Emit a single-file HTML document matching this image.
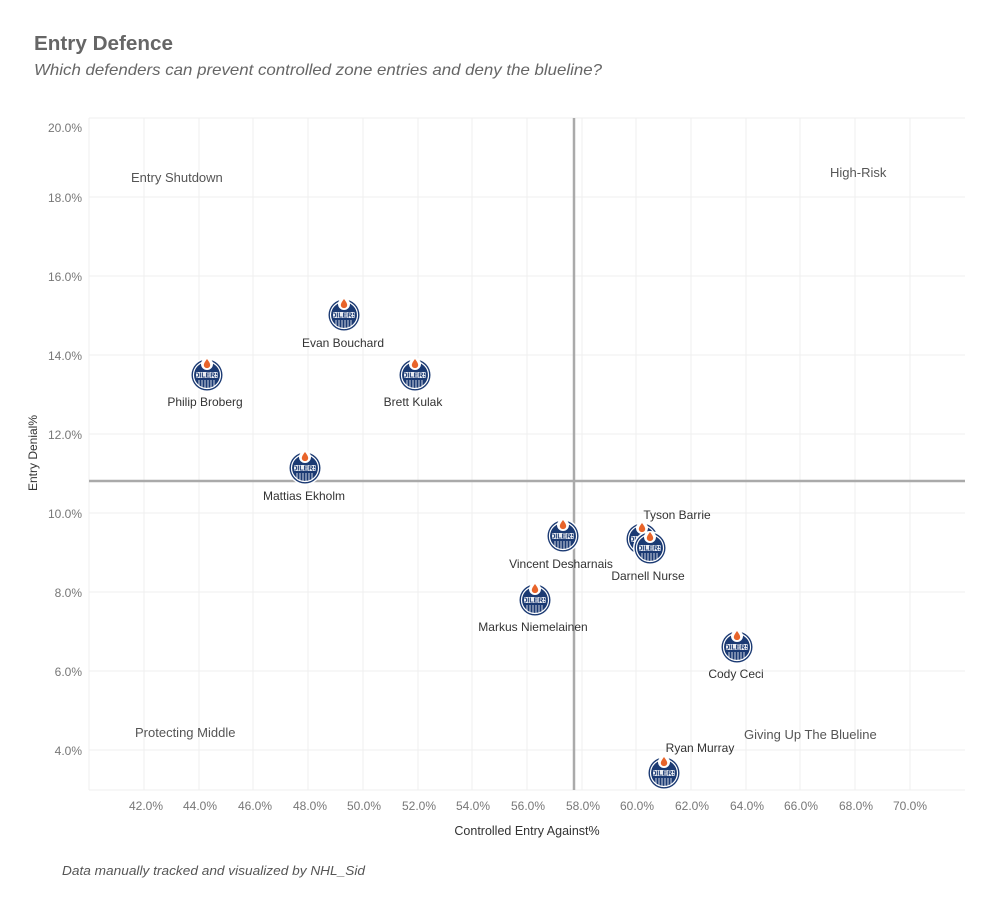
<!DOCTYPE html>
<html><head><meta charset="utf-8"><style>
body{margin:0;background:#fff;font-family:"Liberation Sans","DejaVu Sans",sans-serif;}
</style></head><body>
<svg width="999" height="899" xmlns="http://www.w3.org/2000/svg" font-family="Liberation Sans, DejaVu Sans, sans-serif">
<defs>
<g id="logo">
<circle r="17" fill="#fff"/>
<circle r="15.5" fill="#1b3a73"/>
<circle r="13.5" fill="none" stroke="#fff" stroke-width="1.2"/>
<rect x="-11" y="-3" width="22" height="6" fill="#fff" opacity="0.9"/>
<text x="0" y="2.5" font-size="7" font-weight="bold" fill="#1b3a73" text-anchor="middle">OILERS</text>
<g stroke="#fff" stroke-width="0.8">
<line x1="-8" y1="5" x2="-8" y2="11"/><line x1="-5" y1="5" x2="-5" y2="13"/><line x1="-2" y1="5" x2="-2" y2="13"/><line x1="1" y1="5" x2="1" y2="13"/><line x1="4" y1="5" x2="4" y2="13"/><line x1="7" y1="5" x2="7" y2="11"/>
</g>
<circle cx="0" cy="-11" r="6" fill="#fff"/>
<path d="M0,-16 C3,-12 4,-10 2.5,-8 C1,-6.5 -1,-6.5 -2.5,-8 C-4,-10 -3,-12 0,-16Z" fill="#e8642a"/>
</g>
</defs>
<text x="34" y="50" font-size="20" font-weight="bold" fill="#666" textLength="139" lengthAdjust="spacingAndGlyphs">Entry Defence</text>
<text x="34" y="75" font-size="16" font-style="italic" fill="#666" textLength="568" lengthAdjust="spacingAndGlyphs">Which defenders can prevent controlled zone entries and deny the blueline?</text>
<g stroke="#efefef" stroke-width="1">
<line x1="144" y1="118" x2="144" y2="790"/><line x1="199" y1="118" x2="199" y2="790"/><line x1="253" y1="118" x2="253" y2="790"/><line x1="308" y1="118" x2="308" y2="790"/><line x1="363" y1="118" x2="363" y2="790"/><line x1="418" y1="118" x2="418" y2="790"/><line x1="472" y1="118" x2="472" y2="790"/><line x1="527" y1="118" x2="527" y2="790"/><line x1="582" y1="118" x2="582" y2="790"/><line x1="636" y1="118" x2="636" y2="790"/><line x1="691" y1="118" x2="691" y2="790"/><line x1="746" y1="118" x2="746" y2="790"/><line x1="800" y1="118" x2="800" y2="790"/><line x1="855" y1="118" x2="855" y2="790"/><line x1="910" y1="118" x2="910" y2="790"/>
<line x1="89" y1="118" x2="965" y2="118"/><line x1="89" y1="197" x2="965" y2="197"/><line x1="89" y1="276" x2="965" y2="276"/><line x1="89" y1="355" x2="965" y2="355"/><line x1="89" y1="434" x2="965" y2="434"/><line x1="89" y1="513" x2="965" y2="513"/><line x1="89" y1="592" x2="965" y2="592"/><line x1="89" y1="671" x2="965" y2="671"/><line x1="89" y1="750" x2="965" y2="750"/>
<line x1="89" y1="118" x2="89" y2="790"/><line x1="89" y1="790" x2="965" y2="790"/>
</g>
<g font-size="12" fill="#777" text-anchor="end">
<text x="82" y="132">20.0%</text><text x="82" y="202">18.0%</text><text x="82" y="281">16.0%</text><text x="82" y="360">14.0%</text><text x="82" y="439">12.0%</text><text x="82" y="518">10.0%</text><text x="82" y="597">8.0%</text><text x="82" y="676">6.0%</text><text x="82" y="755">4.0%</text>
</g>
<g font-size="12" fill="#777" text-anchor="middle">
<text x="146" y="810">42.0%</text><text x="200" y="810">44.0%</text><text x="255" y="810">46.0%</text><text x="310" y="810">48.0%</text><text x="364" y="810">50.0%</text><text x="419" y="810">52.0%</text><text x="473" y="810">54.0%</text><text x="528" y="810">56.0%</text><text x="583" y="810">58.0%</text><text x="637" y="810">60.0%</text><text x="692" y="810">62.0%</text><text x="747" y="810">64.0%</text><text x="801" y="810">66.0%</text><text x="856" y="810">68.0%</text><text x="910" y="810">70.0%</text>
</g>
<text x="527" y="835" font-size="12.5" fill="#333" text-anchor="middle">Controlled Entry Against%</text>
<text transform="translate(37,453) rotate(-90)" font-size="12" fill="#333" text-anchor="middle">Entry Denial%</text>
<line x1="574" y1="118" x2="574" y2="790" stroke="#aaa" stroke-width="2.5"/>
<line x1="89" y1="481" x2="965" y2="481" stroke="#aaa" stroke-width="2.5"/>
<g font-size="13" fill="#555">
<text x="131" y="182">Entry Shutdown</text><text x="830" y="177">High-Risk</text>
<text x="135" y="737">Protecting Middle</text><text x="744" y="739">Giving Up The Blueline</text>
</g>
<use href="#logo" x="344" y="315"/><use href="#logo" x="207" y="375"/><use href="#logo" x="415" y="375"/><use href="#logo" x="305" y="468"/>
<use href="#logo" x="563" y="536"/><use href="#logo" x="642" y="539"/><use href="#logo" x="650" y="548"/><use href="#logo" x="535" y="600"/><use href="#logo" x="737" y="647"/><use href="#logo" x="664" y="773"/>
<g font-size="12" fill="#333" text-anchor="middle">
<text x="343" y="347">Evan Bouchard</text><text x="205" y="406">Philip Broberg</text><text x="413" y="406">Brett Kulak</text><text x="304" y="500">Mattias Ekholm</text>
<text x="561" y="568">Vincent Desharnais</text><text x="677" y="519">Tyson Barrie</text><text x="648" y="580">Darnell Nurse</text><text x="533" y="631">Markus Niemelainen</text><text x="736" y="678">Cody Ceci</text><text x="700" y="752">Ryan Murray</text>
</g>
<text x="62" y="875" font-size="13" font-style="italic" fill="#555" textLength="303" lengthAdjust="spacingAndGlyphs">Data manually tracked  and visualized by NHL_Sid</text>
</svg>
</body></html>
